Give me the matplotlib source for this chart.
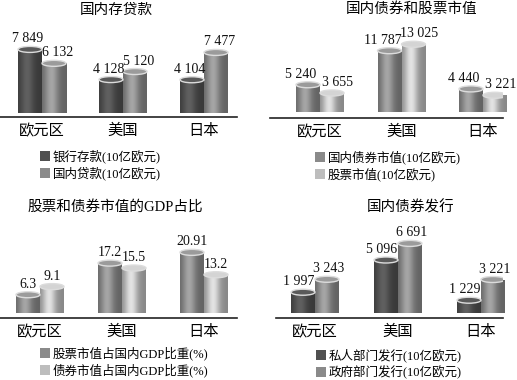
import numpy as np
import matplotlib
matplotlib.use("Agg")
import matplotlib.pyplot as plt
from matplotlib.patches import Rectangle, Ellipse
import matplotlib.colors as mcolors

plt.rcParams['font.family'] = ['Liberation Serif', 'Noto Sans CJK SC', 'DejaVu Sans']

categories = ["欧元区", "美国", "日本"]

p1_title = "国内存贷款"
p1_series = ["银行存款(10亿欧元)", "国内贷款(10亿欧元)"]
p1_a = [7849, 4128, 4104]
p1_b = [6132, 5120, 7477]
p1_la = ["7 849", "4 128", "4 104"]
p1_lb = ["6 132", "5 120", "7 477"]

p2_title = "国内债券和股票市值"
p2_series = ["国内债券市值(10亿欧元)", "股票市值(10亿欧元)"]
p2_a = [5240, 11787, 4440]
p2_b = [3655, 13025, 3221]
p2_la = ["5 240", "11 787", "4 440"]
p2_lb = ["3 655", "13 025", "3 221"]

p3_title = "股票和债券市值的GDP占比"
p3_series = ["股票市值占国内GDP比重(%)", "债券市值占国内GDP比重(%)"]
p3_a = [6.3, 17.2, 20.91]
p3_b = [9.1, 15.5, 13.2]
p3_la = ["6.3", "17.2", "20.91"]
p3_lb = ["9.1", "15.5", "13.2"]

p4_title = "国内债券发行"
p4_series = ["私人部门发行(10亿欧元)", "政府部门发行(10亿欧元)"]
p4_a = [1997, 5096, 1229]
p4_b = [3243, 6691, 3221]
p4_la = ["1 997", "5 096", "1 229"]
p4_lb = ["3 243", "6 691", "3 221"]

W, H = 517, 380
fig = plt.figure(figsize=(W / 100, H / 100), dpi=100)

DARK = "#505050"
MED = "#8a8a8a"
LIGHT = "#bdbdbd"


def cylinder(ax, xc, w, v, color, eh):
    base = np.array(mcolors.to_rgb(color))
    t = np.linspace(0, 1, 64)
    prof = 0.72 + 0.48 * np.exp(-((t - 0.38) / 0.28) ** 2)
    img = np.clip(base[None, :] * prof[:, None], 0, 1)[None, :, :]
    x0, x1 = xc - w / 2, xc + w / 2
    rect = Rectangle((x0, 0), w, v, transform=ax.transData)
    im = ax.imshow(img, extent=[x0, x1, 0, v], aspect='auto', zorder=2,
                   interpolation='bilinear')
    im.set_clip_path(rect)
    top = np.clip(base * 1.12, 0, 1)
    ax.add_patch(Ellipse((xc, v), w, eh, facecolor=top,
                         edgecolor="#dcdcdc", lw=1.0, zorder=3))


def panel(px_left, px_right, px_base, px_top, centers_px, scale, gap,
          va, vb, la, lb, ca, cb, title, title_xy, series, leg_x, leg_y,
          catpad, dxa, dxb):
    left = px_left / W
    bottom = (H - px_base) / H
    width = (px_right - px_left) / W
    height = (px_base - px_top) / H
    ax = fig.add_axes([left, bottom, width, height])
    spacing = (centers_px[2] - centers_px[0]) / 2
    xl0 = (px_left - centers_px[0]) / spacing
    xl1 = (px_right - centers_px[0]) / spacing
    ax.set_xlim(xl0, xl1)
    ylo = -gap / scale
    yhi = (px_base - px_top - gap) / scale
    ax.set_ylim(ylo, yhi)
    bw = 24 / spacing
    eh = 6 / scale
    lift = 4 / scale
    x = np.arange(3)
    for i in range(3):
        xa = x[i] - bw / 2
        xb = x[i] + bw / 2
        cylinder(ax, xa, bw, va[i], ca, eh)
        cylinder(ax, xb, bw, vb[i], cb, eh)
        ax.text(xa + dxa / spacing, va[i] + lift, la[i], ha='center',
                va='bottom', fontsize=10, zorder=5, color='#111111')
        ax.text(xb + dxb / spacing, vb[i] + lift, lb[i], ha='center',
                va='bottom', fontsize=10, zorder=5, color='#111111')
    for s in ['top', 'right', 'left']:
        ax.spines[s].set_visible(False)
    ax.spines['bottom'].set_linewidth(1.2)
    ax.spines['bottom'].set_color('#222222')
    ax.set_yticks([])
    ax.set_xticks(x)
    ax.set_xticklabels(categories, fontsize=11)
    ax.tick_params(axis='x', length=0, pad=catpad)
    ax.patch.set_alpha(0)
    fig.text(title_xy[0] / W, 1 - title_xy[1] / H, title, ha='center',
             va='center', fontsize=10.5)
    for j, (name, col) in enumerate(zip(series, [ca, cb])):
        yy = leg_y[j]
        fig.add_artist(Rectangle((leg_x / W, 1 - (yy + 5) / H), 10 / W, 10 / H,
                                 transform=fig.transFigure, facecolor=col,
                                 edgecolor='none'))
        fig.text((leg_x + 13) / W, 1 - yy / H, name, ha='left', va='center',
                 fontsize=9)
    return ax


panel(0, 237, 117, 20, [42, 123, 204], 0.0081, 4, p1_a, p1_b, p1_la, p1_lb,
      DARK, MED, p1_title, (116, 10), p1_series, 40, [156, 173], 5, -2, 4)
panel(270, 503, 118, 20, [320, 401, 483], 0.0052, 6, p2_a, p2_b, p2_la, p2_lb,
      MED, LIGHT, p2_title, (412, 9), p2_series, 315, [157, 174], 5, -7, 6)
panel(0, 237, 318, 220, [40, 122, 204], 2.9, 5, p3_a, p3_b, p3_la, p3_lb,
      MED, LIGHT, p3_title, (115, 207), p3_series, 40, [353, 370], 5, 0, 0)
panel(276, 503, 318, 220, [315, 398, 481], 0.0104, 5, p4_a, p4_b, p4_la, p4_lb,
      DARK, MED, p4_title, (411, 207), p4_series, 316, [355, 372], 5, -4, 2)

fig.savefig("out.png", dpi=100)
